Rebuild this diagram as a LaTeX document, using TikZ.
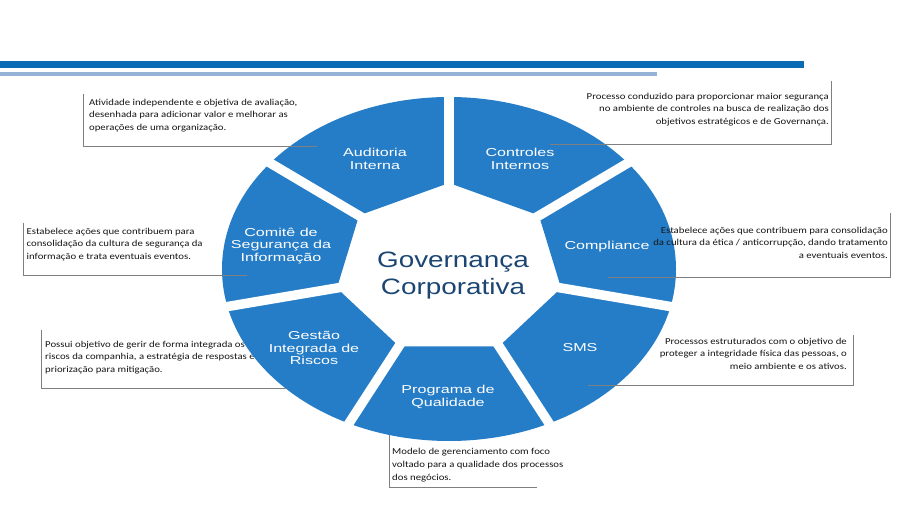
\documentclass[tikz,border=0pt]{standalone}
\usepackage{fontspec}
\setmainfont{Carlito}
\newfontfamily\notefont[FakeStretch=1.18]{Carlito}
\newfontfamily\wheelfont[FakeStretch=1.4]{Liberation Sans}
\newfontfamily\centerfont[FakeStretch=1.25]{Liberation Sans}
\definecolor{barDark}{HTML}{0B6CB6}
\definecolor{barLight}{HTML}{95B3D7}
\definecolor{wheelBlue}{HTML}{267DC7}
\definecolor{centerBlue}{HTML}{1B4673}
\definecolor{noteText}{HTML}{151515}
\definecolor{calloutGray}{HTML}{7F7F7F}
\tikzset{
  notetext/.style={font=\notefont\fontsize{9.1}{12.8}\selectfont, text=noteText, inner sep=0pt},
  noteleft/.style={notetext, anchor=north west, align=left},
  noteright/.style={notetext, anchor=north east, align=right},
  wheellabel/.style={font=\wheelfont\fontsize{11.5}{12.8}\selectfont, text=white, align=center, inner sep=0pt},
  centerlabel/.style={font=\centerfont\fontsize{22.3}{27}\selectfont, text=centerBlue, align=center, inner sep=0pt},
  callout/.style={draw=calloutGray, line width=0.8pt},
  gapline/.style={draw=white, line width=9.5pt},
}
\begin{document}
\begin{tikzpicture}[x=1pt, y=-1pt]
\useasboundingbox (0,0) rectangle (907,510);
% top bars
\fill[barDark] (0,61.3) rectangle (804,67.7);
\fill[barLight] (0,72) rectangle (657,76.3);

% note drawn beneath the wheel
\node[noteleft] (nGestao) at (45,340.5) {Possui objetivo de gerir de forma integrada os\\riscos da companhia, a estratégia de respostas e\\priorização para mitigação.};

% wheel geometry
\coordinate (c) at (449,269);
\foreach \k in {0,...,6}{
  \pgfmathsetmacro{\ang}{90-360/7*\k}
  \coordinate (v\k) at ({449+115*cos(\ang)},{269-86*sin(\ang)});
  \coordinate (o\k) at ({449+245*cos(\ang)},{269-182*sin(\ang)});
}
\fill[wheelBlue, even odd rule] (c) ellipse [x radius=227pt, y radius=172pt]
  (v0) -- (v1) -- (v2) -- (v3) -- (v4) -- (v5) -- (v6) -- cycle;
\foreach \k in {0,...,6}{
  \draw[gapline] (c) -- (o\k);
}

% wheel labels
\node[wheellabel] (auditoria) at (375,159) {Auditoria\\Interna};
\node[wheellabel] (controles) at (520,159) {Controles\\Internos};
\node[wheellabel] (comite) at (281,246) {Comitê de\\Segurança da\\Informação};
\node[wheellabel] (compliance) at (607,247) {Compliance};
\node[wheellabel] (gestao) at (314,348) {Gestão\\Integrada de\\Riscos};
\node[wheellabel] (sms) at (580,348) {SMS};
\node[wheellabel] (programa) at (448,397) {Programa de\\Qualidade};
\node[centerlabel] (gov) at (453,276) {Governança\\Corporativa};

% notes
\node[noteleft] (nAuditoria) at (89,98.5) {Atividade independente e objetiva de avaliação,\\desenhada para adicionar valor e melhorar as\\operações de uma organização.};
\node[noteright] (nControles) at (829,92.5) {Processo conduzido para proporcionar maior segurança\\no ambiente de controles na busca de realização dos\\objetivos estratégicos e de Governança.};
\node[noteleft] (nComite) at (26.5,227.5) {Estabelece ações que contribuem para\\consolidação da cultura de segurança da\\informação e trata eventuais eventos.};
\node[noteright] (nCompliance) at (888,226.5) {Estabelece ações que contribuem para consolidação\\da cultura da ética / anticorrupção, dando tratamento\\a eventuais eventos.};
\node[noteright] (nSMS) at (847,337.5) {Processos estruturados com o objetivo de\\proteger a integridade física das pessoas, o\\meio ambiente e os ativos.};
\node[noteleft] (nPrograma) at (392,448) {Modelo de gerenciamento com foco\\voltado para a qualidade dos processos\\dos negócios.};

% callout frames
\coordinate (aT) at (83,94);   \coordinate (aC) at (83,146);  \coordinate (aE) at (317,146);
\coordinate (bT) at (831,81);  \coordinate (bC) at (831,144); \coordinate (bE) at (550,144);
\coordinate (cT) at (23.5,223);\coordinate (cC) at (23.5,275);\coordinate (cE) at (247,275);
\coordinate (dT) at (890,213); \coordinate (dC) at (890,277); \coordinate (dE) at (608,277);
\coordinate (eT) at (41.5,330);\coordinate (eC) at (41.5,388);\coordinate (eE) at (287,388);
\coordinate (fT) at (853,335); \coordinate (fC) at (853,385); \coordinate (fE) at (588,385);
\coordinate (gT) at (389,435); \coordinate (gC) at (389,487); \coordinate (gE) at (537,487);
\draw[callout] (aT) -- (aC) -- (aE);
\draw[callout] (bT) -- (bC) -- (bE);
\draw[callout] (cT) -- (cC) -- (cE);
\draw[callout] (dT) -- (dC) -- (dE);
\draw[callout] (eT) -- (eC) -- (eE);
\draw[callout] (fT) -- (fC) -- (fE);
\draw[callout] (gT) -- (gC) -- (gE);
\end{tikzpicture}
\end{document}
